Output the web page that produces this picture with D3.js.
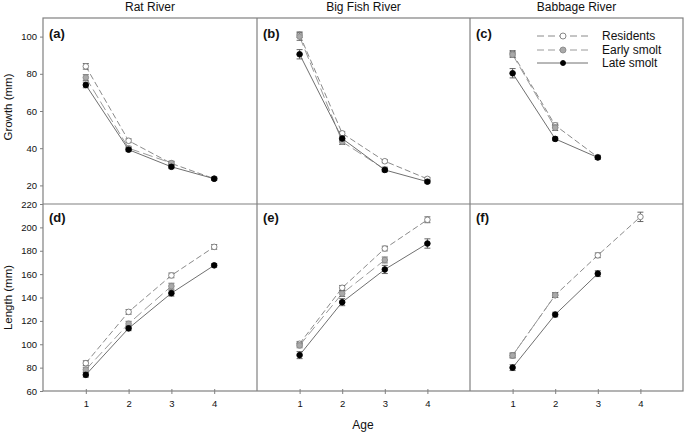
<!DOCTYPE html>
<html>
<head>
<meta charset="utf-8">
<script src="https://cdn.jsdelivr.net/npm/d3@7"></script>
<style>
  body { margin: 0; background: #fff; }
  text { font-family: "Liberation Sans", Arial, sans-serif; fill: #111; }
</style>
</head>
<body>
<svg id="chart"></svg>
<script>
const rivers = ["Rat River", "Big Fish River", "Babbage River"]
const ages = [1, 2, 3, 4]
const groups = ["Residents", "Early smolt", "Late smolt"]
const panelLetters = [["(a)", "(b)", "(c)"], ["(d)", "(e)", "(f)"]]

// growth (mm) by river, ages 1..n
const growthResidents = [[84, 44, 31.8, 23.6], [101, 48, 33, 23.5], [91, 52.3, 35.2]]
const growthEarly = [[78, 40, 32], [100, 43.5, 28.6], [90.3, 51]]
const growthLate = [[74, 39.2, 30, 23.6], [90.5, 45.2, 28.3, 22], [80.3, 45, 35]]
const growthResidentsErr = [[1.5, 1, 1, 0.8], [1.5, 1, 0.8, 0.8], [1.5, 1.2, 1]]
const growthEarlyErr = [[1.5, 1, 1], [2, 1.5, 1.2], [1.5, 1.5]]
const growthLateErr = [[1.5, 1, 1, 0.8], [2.5, 1.2, 1, 0.8], [2.5, 1, 1]]

// length (mm)
const lengthResidents = [[83.8, 127.7, 158.9, 183.3], [100.4, 148.3, 181.9, 206.5], [90.4, 142, 176.1, 209]]
const lengthEarly = [[78.3, 117.6, 149.7], [99, 143.4, 172.1], [90.4, 142]]
const lengthLate = [[73.8, 113.6, 143.7, 167.5], [90.7, 136, 164, 186.2], [80, 125.4, 160.4]]
const lengthResidentsErr = [[2, 2, 2, 2], [2, 2, 2, 2.5], [2, 2, 2, 4]]
const lengthEarlyErr = [[2, 2, 2.5], [2, 2.5, 2.5], [2, 2]]
const lengthLateErr = [[2, 2, 2.5, 1.5], [3, 3, 3.5, 4], [2.5, 2, 2.5]]

const growthTicks = [20, 40, 60, 80, 100]
const lengthTicks = [60, 80, 100, 120, 140, 160, 180, 200, 220]

const width = 685, height = 433
const colX = [43, 257, 470, 683]
const rowY = [[18, 204], [204, 391]]
const frameColor = "#808080"

const styles = [
  { fill: "#fff", stroke: "#7a7a7a", line: "#8a8a8a", dash: "6,3" },
  { fill: "#a9a9a9", stroke: "#8a8a8a", line: "#9a9a9a", dash: "10,4" },
  { fill: "#000", stroke: "#000", line: "#707070", dash: null }
]

const svg = d3.select("#chart")
  .attr("width", width)
  .attr("height", height)

const rows = [
  { domain: [10, 110], ticks: growthTicks, series: [growthResidents, growthEarly, growthLate],
    errs: [growthResidentsErr, growthEarlyErr, growthLateErr], label: "Growth (mm)" },
  { domain: [60, 220], ticks: lengthTicks, series: [lengthResidents, lengthEarly, lengthLate],
    errs: [lengthResidentsErr, lengthEarlyErr, lengthLateErr], label: "Length (mm)" }
]

rows.forEach((row, r) => {
  const y = d3.scaleLinear().domain(row.domain).range([rowY[r][1], rowY[r][0]])

  // y axis on the left panel only
  svg.append("g")
    .attr("transform", `translate(${colX[0]},0)`)
    .call(d3.axisLeft(y).tickValues(row.ticks).tickSize(3).tickPadding(3))
    .call(g => g.select(".domain").remove())
    .call(g => g.selectAll("line").attr("stroke", frameColor))
    .call(g => g.selectAll("text").attr("font-size", 9.5).attr("font-family", "Liberation Sans, Arial, sans-serif").attr("fill", "#111"))

  svg.append("text")
    .attr("transform", `translate(12,${(rowY[r][0] + rowY[r][1]) / 2 - (r === 0 ? 4 : 0)}) rotate(-90)`)
    .attr("text-anchor", "middle")
    .attr("font-size", 11.5)
    .text(row.label)

  rivers.forEach((river, c) => {
    const x = d3.scaleLinear().domain([0, 5]).range([colX[c], colX[c + 1]])
    const g = svg.append("g")

    if (r === 1) {
      svg.append("g")
        .attr("transform", `translate(0,${rowY[1][1]})`)
        .call(d3.axisBottom(x).tickValues(ages).tickSize(3).tickPadding(6).tickFormat(d3.format("d")))
        .call(a => a.select(".domain").remove())
        .call(a => a.selectAll("line").attr("stroke", frameColor).attr("y1", -2))
        .call(a => a.selectAll("text").attr("font-size", 9.5).attr("font-family", "Liberation Sans, Arial, sans-serif").attr("fill", "#111"))
    } else {
      svg.append("text")
        .attr("x", (colX[c] + colX[c + 1]) / 2)
        .attr("y", 11)
        .attr("text-anchor", "middle")
        .attr("font-size", 12)
        .text(river)
    }

    g.append("text")
      .attr("x", colX[c] + 6)
      .attr("y", rowY[r][0] + (r === 0 ? 20 : 18))
      .attr("font-size", 13)
      .attr("font-weight", "bold")
      .text(panelLetters[r][c])

    row.series.forEach((s, k) => {
      const pts = s[c].map((v, i) => ({ age: ages[i], v, e: row.errs[k][c][i] }))
      const st = styles[k]

      g.append("path")
        .datum(pts)
        .attr("fill", "none")
        .attr("stroke", st.line)
        .attr("stroke-width", 1)
        .attr("stroke-dasharray", st.dash)
        .attr("d", d3.line().x(d => x(d.age)).y(d => y(d.v)))

      const eb = g.append("g").attr("stroke", "#555").attr("stroke-width", 0.9)
      eb.selectAll("line.v").data(pts).join("line").attr("class", "v")
        .attr("x1", d => x(d.age)).attr("x2", d => x(d.age))
        .attr("y1", d => y(d.v - d.e)).attr("y2", d => y(d.v + d.e))
      eb.selectAll("line.t").data(pts).join("line").attr("class", "t")
        .attr("x1", d => x(d.age) - 3).attr("x2", d => x(d.age) + 3)
        .attr("y1", d => y(d.v + d.e)).attr("y2", d => y(d.v + d.e))
      eb.selectAll("line.b").data(pts).join("line").attr("class", "b")
        .attr("x1", d => x(d.age) - 3).attr("x2", d => x(d.age) + 3)
        .attr("y1", d => y(d.v - d.e)).attr("y2", d => y(d.v - d.e))

      g.selectAll(null).data(pts).join("circle")
        .attr("cx", d => x(d.age))
        .attr("cy", d => y(d.v))
        .attr("r", 2.8)
        .attr("fill", st.fill)
        .attr("stroke", st.stroke)
        .attr("stroke-width", 0.9)
    })
  })
})

// frame
svg.append("rect")
  .attr("x", colX[0]).attr("y", rowY[0][0])
  .attr("width", colX[3] - colX[0]).attr("height", rowY[1][1] - rowY[0][0])
  .attr("fill", "none").attr("stroke", frameColor).attr("stroke-width", 1.2)
svg.append("line")
  .attr("x1", colX[0]).attr("x2", colX[3]).attr("y1", rowY[0][1]).attr("y2", rowY[0][1])
  .attr("stroke", frameColor).attr("stroke-width", 1.2)
colX.slice(1, 3).forEach(cx => {
  svg.append("line")
    .attr("x1", cx).attr("x2", cx).attr("y1", rowY[0][0]).attr("y2", rowY[1][1])
    .attr("stroke", frameColor).attr("stroke-width", 1.2)
})

svg.append("text")
  .attr("x", (colX[0] + colX[3]) / 2)
  .attr("y", 429)
  .attr("text-anchor", "middle")
  .attr("font-size", 12)
  .text("Age")

// legend in panel (c)
const legend = svg.append("g")
const legendY = [36, 50, 63]
groups.forEach((name, k) => {
  const st = styles[k]
  legend.append("line")
    .attr("x1", 537).attr("x2", 588)
    .attr("y1", legendY[k]).attr("y2", legendY[k])
    .attr("stroke", st.line).attr("stroke-dasharray", k === 2 ? null : "7,4")
  legend.append("circle")
    .attr("cx", 563).attr("cy", legendY[k]).attr("r", k === 2 ? 2.5 : 3)
    .attr("fill", st.fill).attr("stroke", st.stroke).attr("stroke-width", 0.9)
  legend.append("text")
    .attr("x", 602).attr("y", legendY[k] + 4)
    .attr("font-size", 12)
    .text(name)
})
</script>
</body>
</html>
